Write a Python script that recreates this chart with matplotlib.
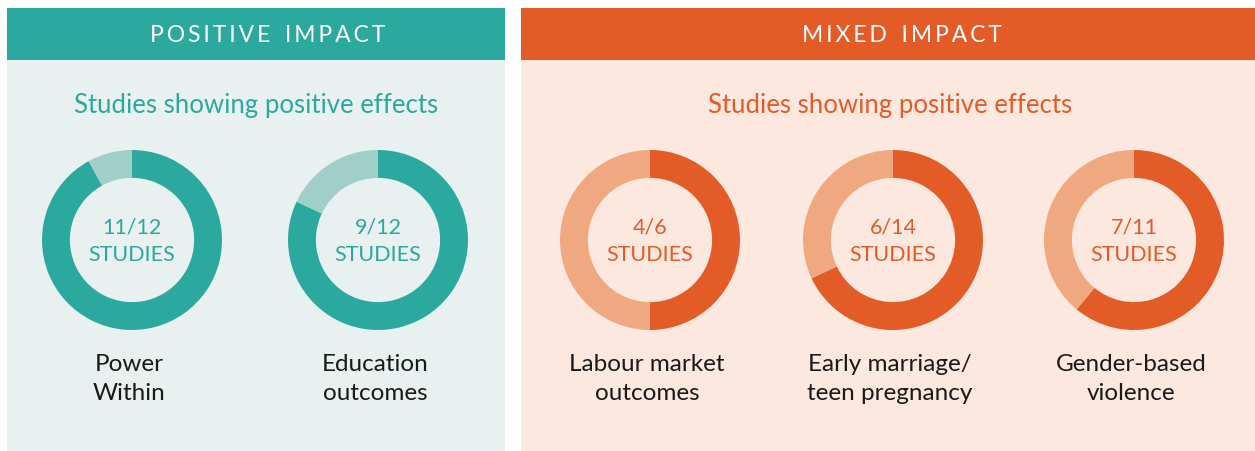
import matplotlib
matplotlib.use("Agg")
import matplotlib.pyplot as plt
from matplotlib.patches import Rectangle

# ---------------------------------------------------------------
# data (wedge shares, labels as printed)
# ---------------------------------------------------------------
pos_labels = ["Power\nWithin", "Education\noutcomes"]
pos_counts = ["11/12", "9/12"]
pos_share = [0.92, 0.82]

mix_labels = ["Labour market\noutcomes", "Early marriage/\nteen pregnancy", "Gender-based\nviolence"]
mix_counts = ["4/6", "6/14", "7/11"]
mix_share = [0.50, 0.68, 0.61]

TEAL, TEAL_LT, TEAL_BG = "#2CA99E", "#A0CFC8", "#E8F1F0"
ORNG, ORNG_LT, ORNG_BG = "#E35C28", "#F0A880", "#FCE8DE"
FONT = "Lato"

W, H = 1255, 451
fig = plt.figure(figsize=(W / 100, H / 100), dpi=100)
bg = fig.add_axes([0, 0, 1, 1])
bg.set_xlim(0, W)
bg.set_ylim(H, 0)
bg.axis("off")


def spaced(s):
    # letter-spaced header text
    return "\u2009  ".join("\u2009".join(w) for w in s.split(" "))


# panels
bg.add_patch(Rectangle((7, 8), 498, 443, color=TEAL_BG, lw=0))
bg.add_patch(Rectangle((7, 8), 498, 52, color=TEAL, lw=0))
bg.add_patch(Rectangle((521, 8), 734, 443, color=ORNG_BG, lw=0))
bg.add_patch(Rectangle((521, 8), 734, 52, color=ORNG, lw=0))

bg.text(268, 35, spaced("POSITIVE IMPACT"), color="white", fontsize=16.5,
        family=FONT, ha="center", va="center")
bg.text(902, 35, spaced("MIXED IMPACT"), color="white", fontsize=16.5,
        family=FONT, ha="center", va="center")
bg.text(256, 106, "Studies showing positive effects", color=TEAL, fontsize=18.5,
        family=FONT, ha="center", va="center")
bg.text(890, 106, "Studies showing positive effects", color=ORNG, fontsize=18.5,
        family=FONT, ha="center", va="center")


def donut(cx, share, count, label, c_dark, c_light):
    cy, r = 240, 90
    ax = fig.add_axes([(cx - r) / W, 1 - (cy + r) / H, 2 * r / W, 2 * r / H])
    ax.pie([share, 1 - share], colors=[c_dark, c_light], startangle=90,
           counterclock=False, wedgeprops=dict(width=0.31, linewidth=0))
    ax.set_xlim(-1, 1)
    ax.set_ylim(-1, 1)
    bg.text(cx, 228, count, color=c_dark, fontsize=15.5, family=FONT,
            ha="center", va="center")
    bg.text(cx, 255, "STUDIES", color=c_dark, fontsize=15.5, family=FONT,
            ha="center", va="center")
    bg.text(cx - 3, 379, label, color="#1A1A1A", fontsize=17.5, family=FONT,
            ha="center", va="center", linespacing=1.45)


for cx, s, c, l in zip([132, 378], pos_share, pos_counts, pos_labels):
    donut(cx, s, c, l, TEAL, TEAL_LT)
for cx, s, c, l in zip([650, 893, 1134], mix_share, mix_counts, mix_labels):
    donut(cx, s, c, l, ORNG, ORNG_LT)

fig.savefig("out.png", dpi=100)
